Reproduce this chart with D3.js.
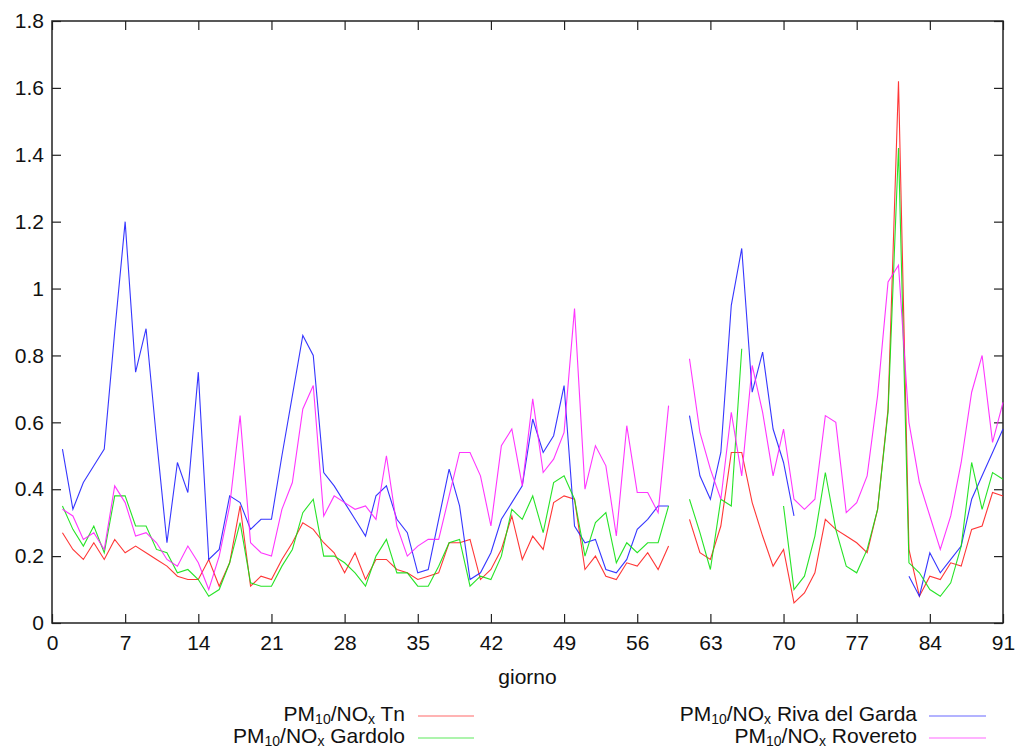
<!DOCTYPE html>
<html>
<head>
<meta charset="utf-8">
<script src="https://cdn.jsdelivr.net/npm/d3@7"></script>
<style>
  html, body { margin: 0; padding: 0; background: #fff; }
  svg text { font-family: "Liberation Sans", Arial, sans-serif; fill: #111; }
</style>
</head>
<body>
<svg id="chart" width="1017" height="747"></svg>
<script>
// ---- data (day 1..91), null = missing ----
const days = d3.range(1, 92);
const xTicks = [0, 7, 14, 21, 28, 35, 42, 49, 56, 63, 70, 77, 84, 91];
const yTicks = [0, 0.2, 0.4, 0.6, 0.8, 1, 1.2, 1.4, 1.6, 1.8];
const seriesNames = ["Tn", "Riva del Garda", "Gardolo", "Rovereto"];
const seriesColors = ["#ff2020", "#2020ff", "#10e010", "#ff20ff"];

const tn = [0.27,0.22,0.19,0.24,0.19,0.25,0.21,0.23,0.21,0.19,
  0.17,0.14,0.13,0.13,0.19,0.11,0.18,0.35,0.11,0.14,
  0.13,0.19,0.24,0.30,0.28,0.24,0.21,0.15,0.21,0.13,
  0.19,0.19,0.16,0.15,0.13,0.14,0.15,0.24,0.24,0.25,
  0.13,0.16,0.22,0.32,0.19,0.26,0.22,0.36,0.38,0.37,
  0.16,0.20,0.14,0.13,0.18,0.17,0.21,0.16,0.23,null,
  0.31,0.21,0.19,0.29,0.51,0.51,0.36,0.26,0.17,0.22,
  0.06,0.09,0.15,0.31,0.28,0.26,0.24,0.21,0.34,0.64,
  1.62,0.22,0.08,0.14,0.13,0.18,0.17,0.28,0.29,0.39,0.38];

const riva = [0.52,0.34,0.42,0.47,0.52,0.87,1.20,0.75,0.88,0.55,
  0.24,0.48,0.39,0.75,0.19,0.22,0.38,0.36,0.28,0.31,
  0.31,0.50,0.68,0.86,0.80,0.45,0.41,0.36,0.31,0.26,
  0.38,0.41,0.31,0.27,0.15,0.16,0.31,0.46,0.35,0.13,
  0.15,0.21,0.31,0.36,0.41,0.61,0.51,0.56,0.71,0.29,
  0.24,0.25,0.16,0.15,0.19,0.28,0.31,0.35,0.35,null,
  0.62,0.44,0.37,0.51,0.95,1.12,0.69,0.81,0.58,0.48,
  0.32,null,null,null,null,null,null,null,null,null,
  null,0.14,0.08,0.21,0.15,0.19,0.23,0.37,0.44,0.51,0.58];

const gardolo = [0.35,0.28,0.23,0.29,0.21,0.38,0.38,0.29,0.29,0.22,
  0.21,0.15,0.16,0.13,0.08,0.10,0.18,0.30,0.12,0.11,
  0.11,0.17,0.22,0.33,0.37,0.20,0.20,0.18,0.15,0.11,
  0.20,0.25,0.15,0.15,0.11,0.11,0.17,0.24,0.25,0.11,
  0.14,0.13,0.20,0.34,0.31,0.38,0.27,0.42,0.44,0.37,
  0.20,0.30,0.33,0.18,0.24,0.21,0.24,0.24,0.35,null,
  0.37,0.27,0.16,0.37,0.35,0.82,null,null,null,0.35,
  0.10,0.14,0.26,0.45,0.28,0.17,0.15,0.22,0.34,0.63,
  1.42,0.18,0.15,0.10,0.08,0.12,0.23,0.48,0.34,0.45,0.43];

const rovereto = [0.34,0.32,0.25,0.27,0.22,0.41,0.36,0.26,0.27,0.24,
  0.19,0.17,0.23,0.18,0.10,0.20,0.35,0.62,0.24,0.21,
  0.20,0.34,0.42,0.64,0.71,0.32,0.38,0.36,0.34,0.35,
  0.31,0.50,0.29,0.20,0.23,0.25,0.25,0.38,0.51,0.51,
  0.44,0.29,0.53,0.58,0.41,0.67,0.45,0.49,0.57,0.94,
  0.40,0.53,0.47,0.26,0.59,0.39,0.39,0.33,0.65,null,
  0.79,0.57,0.46,0.37,0.63,0.44,0.77,0.63,0.44,0.58,
  0.37,0.34,0.37,0.62,0.60,0.33,0.36,0.44,0.68,1.02,
  1.07,0.60,0.42,0.32,0.22,0.32,0.48,0.69,0.80,0.54,0.66];

const seriesValues = [tn, riva, gardolo, rovereto];

// ---- layout ----
const L = 52, R = 1003, T = 21, B = 623;
const svg = d3.select("#chart");

const x = d3.scaleLinear().domain([0, 91]).range([L, R]);
const y = d3.scaleLinear().domain([0, 1.8]).range([B, T]);

const fontSize = 21;
const subSize = 14;
const tickLen = 9;

// bottom axis
const gx = svg.append("g").attr("transform", `translate(0,${B})`)
  .call(d3.axisBottom(x).tickValues(xTicks).tickFormat(d3.format("d"))
    .tickSizeInner(-tickLen).tickSizeOuter(0).tickPadding(12));
// top mirror
const gxt = svg.append("g").attr("transform", `translate(0,${T})`)
  .call(d3.axisTop(x).tickValues(xTicks).tickFormat("")
    .tickSizeInner(-tickLen).tickSizeOuter(0));
// left axis
const gy = svg.append("g").attr("transform", `translate(${L},0)`)
  .call(d3.axisLeft(y).tickValues(yTicks).tickFormat(d => d === 0 ? "0" : d === 1 ? "1" : d3.format(".1f")(d))
    .tickSizeInner(-tickLen).tickSizeOuter(0).tickPadding(8));
// right mirror
const gyr = svg.append("g").attr("transform", `translate(${R},0)`)
  .call(d3.axisRight(y).tickValues(yTicks).tickFormat("")
    .tickSizeInner(-tickLen).tickSizeOuter(0));

[gx, gxt, gy, gyr].forEach(g => {
  g.select(".domain").remove();
  g.selectAll(".tick line").attr("stroke", "#222").attr("stroke-width", 1.2);
  g.selectAll(".tick text").attr("font-size", fontSize).attr("fill", "#111")
    .style("font-family", "'Liberation Sans', Arial, sans-serif");
});

// frame
svg.append("rect").attr("x", L).attr("y", T).attr("width", R - L).attr("height", B - T)
  .attr("fill", "none").attr("stroke", "#222").attr("stroke-width", 1.5);

// x label
svg.append("text").attr("x", (L + R) / 2).attr("y", 684).attr("text-anchor", "middle")
  .attr("font-size", fontSize).text("giorno");

// lines
const line = d3.line()
  .defined(d => d.v !== null)
  .x(d => x(d.day))
  .y(d => y(d.v));

seriesValues.forEach((vals, i) => {
  const pts = days.map((d, k) => ({ day: d, v: vals[k] }));
  svg.append("path").datum(pts)
    .attr("d", line)
    .attr("fill", "none")
    .attr("stroke", seriesColors[i])
    .attr("stroke-width", 1.1)
    .attr("stroke-linejoin", "miter")
    .attr("opacity", 0.9);
});

// legend: row-major, 2 columns
const legendCols = [{ textRight: 405, x1: 418, x2: 474 }, { textRight: 917, x1: 929, x2: 986 }];
const legendRows = [715, 737];
seriesNames.forEach((name, i) => {
  const col = legendCols[i % 2];
  const ry = legendRows[Math.floor(i / 2)];
  const t = svg.append("text").attr("x", col.textRight).attr("y", ry + 6)
    .attr("text-anchor", "end").attr("font-size", fontSize);
  t.append("tspan").text("PM");
  t.append("tspan").attr("font-size", subSize).attr("dy", 3).text("10");
  t.append("tspan").attr("dy", -3).text("/NO");
  t.append("tspan").attr("font-size", subSize).attr("dy", 3).text("x");
  t.append("tspan").attr("dy", -3).text(" " + name);
  svg.append("line").attr("x1", col.x1).attr("x2", col.x2).attr("y1", ry + 1).attr("y2", ry + 1)
    .attr("stroke", seriesColors[i]).attr("stroke-width", 1.5).attr("opacity", 0.45);
});
</script>
</body>
</html>
